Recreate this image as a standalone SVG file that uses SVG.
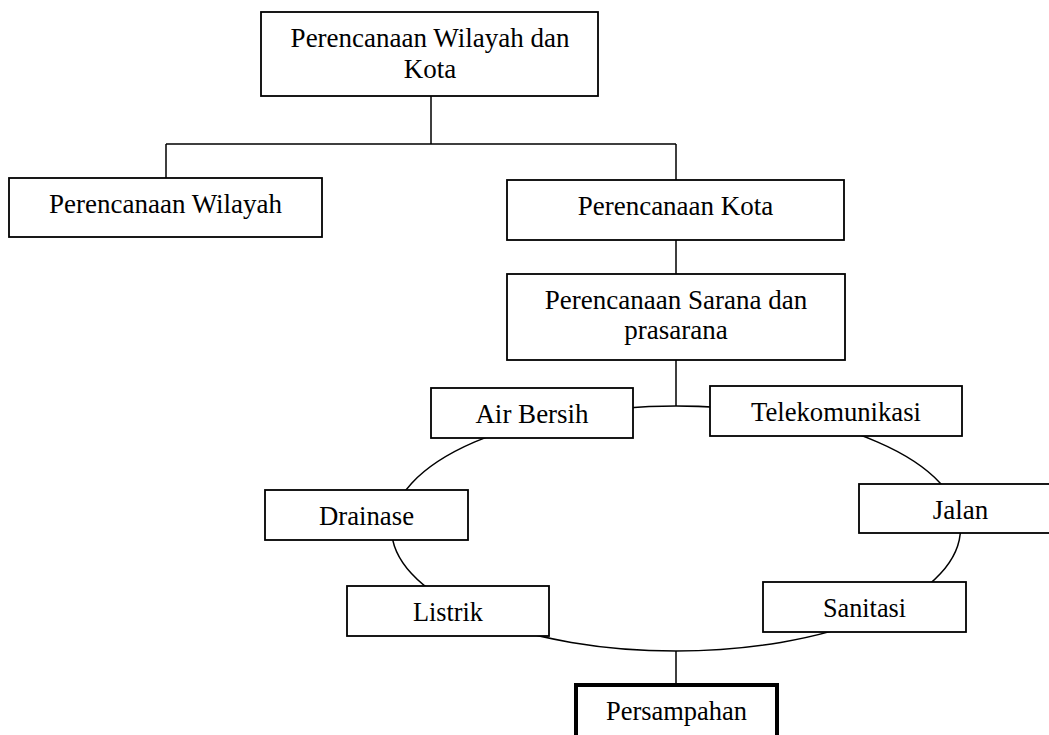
<svg xmlns="http://www.w3.org/2000/svg" width="1049" height="735" viewBox="0 0 1049 735">
  <style>
    .box { fill: #ffffff; stroke: #000000; stroke-width: 1.8; }
    .box-bold { fill: #ffffff; stroke: #000000; stroke-width: 4; }
    .wire { fill: none; stroke: #000000; stroke-width: 1.5; }
    .label { font-family: "Liberation Serif", "Times New Roman", serif; font-size: 27px; fill: #000000; text-anchor: middle; }
  </style>
  <rect x="0" y="0" width="1049" height="735" fill="#ffffff"/>

  <!-- connectors: tree lines and the ring linking the facility nodes -->
  <g id="connectors">
    <path class="wire" d="M431 96 V144 M166 144 H676 M166 144 V178 M676 144 V180 M676 240 V274 M676 360 V406 M676 651 V685"/>
    <ellipse class="wire" cx="676" cy="528.5" rx="284.5" ry="122.5"/>
  </g>

  <g id="node-wilayah-kota">
    <rect class="box" x="261" y="12" width="337" height="84"/>
    <text class="label" x="430" y="47">Perencanaan Wilayah dan</text>
    <text class="label" x="430" y="78">Kota</text>
  </g>

  <g id="node-wilayah">
    <rect class="box" x="9" y="178" width="313" height="59"/>
    <text class="label" x="165.5" y="213">Perencanaan Wilayah</text>
  </g>

  <g id="node-kota">
    <rect class="box" x="507" y="180" width="337" height="60"/>
    <text class="label" x="675.5" y="215">Perencanaan Kota</text>
  </g>

  <g id="node-sarana">
    <rect class="box" x="507" y="274" width="338" height="86"/>
    <text class="label" x="676" y="309">Perencanaan Sarana dan</text>
    <text class="label" x="676" y="339">prasarana</text>
  </g>

  <g id="node-air-bersih">
    <rect class="box" x="431" y="388" width="202" height="50"/>
    <text class="label" x="532" y="423">Air Bersih</text>
  </g>

  <g id="node-telekomunikasi">
    <rect class="box" x="710" y="386" width="252" height="50"/>
    <text class="label" x="836" y="421" textLength="170" lengthAdjust="spacingAndGlyphs">Telekomunikasi</text>
  </g>

  <g id="node-drainase">
    <rect class="box" x="265" y="490" width="203" height="50"/>
    <text class="label" x="366.5" y="525" textLength="95" lengthAdjust="spacingAndGlyphs">Drainase</text>
  </g>

  <g id="node-jalan">
    <rect class="box" x="859" y="484" width="203" height="49"/>
    <text class="label" x="960.5" y="519">Jalan</text>
  </g>

  <g id="node-listrik">
    <rect class="box" x="347" y="586" width="202" height="50"/>
    <text class="label" x="448" y="621" textLength="70" lengthAdjust="spacingAndGlyphs">Listrik</text>
  </g>

  <g id="node-sanitasi">
    <rect class="box" x="763" y="582" width="203" height="50"/>
    <text class="label" x="864.5" y="617" textLength="83" lengthAdjust="spacingAndGlyphs">Sanitasi</text>
  </g>

  <g id="node-persampahan">
    <rect class="box-bold" x="576" y="685" width="201" height="70"/>
    <text class="label" x="676.5" y="720" textLength="141" lengthAdjust="spacingAndGlyphs">Persampahan</text>
  </g>
</svg>
